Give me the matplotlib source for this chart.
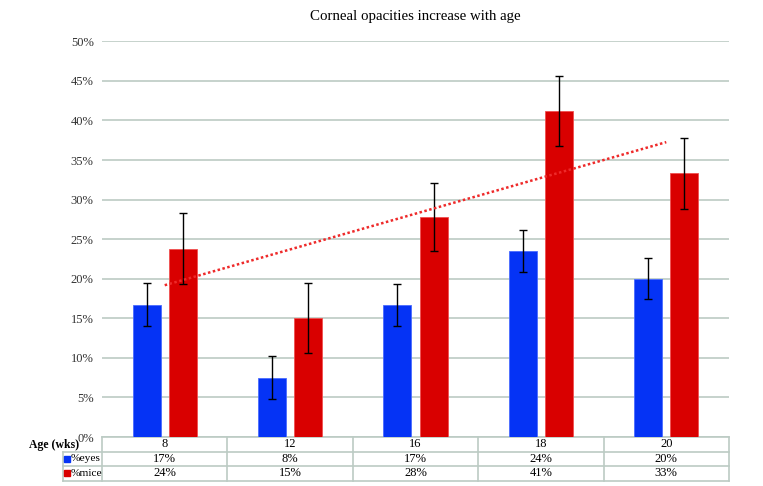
# -*- coding: utf-8 -*-
"""
Corneal opacities vs age: grouped bars with error bars, linear trend and data table.
"""

import numpy as np
import matplotlib.pyplot as plt
import matplotlib.transforms as mtransforms

# data
ages = ['8', '12', '16', '18', '20']
eyes = [16.7, 7.5, 16.7, 23.5, 20.0]
mice = [23.8, 15.0, 27.8, 41.2, 33.3]
eyes_err = [2.7, 2.7, 2.65, 2.7, 2.6]
mice_err = [4.45, 4.4, 4.35, 4.4, 4.45]
eyes_lbl = ['17%', '8%', '17%', '24%', '20%']
mice_lbl = ['24%', '15%', '28%', '41%', '33%']

blue = '#0533F5'
red = '#D90000'
gridc = '#BCCBC4'

plt.rcParams['font.family'] = ['Liberation Serif', 'DejaVu Serif']

fig = plt.figure(figsize=(7.63, 4.86), dpi=100)
ax = fig.add_axes([0.1337, 0.1008, 0.8217, 0.8142])

x = np.arange(1, len(ages) + 1)
w = 0.223
off = 0.144

ax.bar(x - off, eyes, w, color=blue, edgecolor='#4A6BFF', linewidth=0.6, zorder=3)
ax.bar(x + off, mice, w, color=red, edgecolor='#F05050', linewidth=0.6, zorder=3)
ax.errorbar(x - off, eyes, yerr=eyes_err, fmt='none', ecolor='black',
            elinewidth=1, capsize=3, capthick=1, zorder=4)
ax.errorbar(x + off, mice, yerr=mice_err, fmt='none', ecolor='black',
            elinewidth=1, capsize=3, capthick=1, zorder=4)

# linear trend on %mice
fit = np.poly1d(np.polyfit(x, mice, 1))
ax.plot([x[0], x[-1]], fit([x[0], x[-1]]), color='#EE2A2A', linestyle=(0, (1, 1)),
        linewidth=1.8, zorder=5)

ax.set_xlim(0.5, len(ages) + 0.5)
ax.set_ylim(0, 50)
ax.set_yticks(np.arange(0, 51, 5))
ax.set_yticklabels(['%d%%' % v for v in range(0, 51, 5)], fontsize=9, color='#333333')
ax.yaxis.grid(True, color=gridc, linewidth=1.2, zorder=0)
ax.set_axisbelow(True)
ax.tick_params(axis='y', length=0, pad=6)
ax.set_xticks([])
for s in ax.spines.values():
    s.set_visible(False)

ax.set_title('Corneal opacities increase with age', fontsize=10.7, pad=15)

# data table under the axis
tr = mtransforms.blended_transform_factory(ax.transData, ax.transAxes)
rh = 14.5 / (0.8142 * 486)
lab_x = 0.19
n = len(ages)
kw = dict(color=gridc, linewidth=1.2, transform=tr, clip_on=False)
ax.plot([0.5, n + 0.5], [0, 0], **kw)
for r in range(1, 4):
    ax.plot([lab_x, n + 0.5], [-r * rh, -r * rh], **kw)
for b in np.arange(0.5, n + 1):
    ax.plot([b, b], [0, -3 * rh], **kw)
ax.plot([lab_x, lab_x], [-rh, -3 * rh], **kw)

for i in range(n):
    ax.text(x[i], -0.5 * rh, ages[i], transform=tr, ha='center', va='center', fontsize=9)
    ax.text(x[i], -1.5 * rh, eyes_lbl[i], transform=tr, ha='center', va='center', fontsize=9)
    ax.text(x[i], -2.5 * rh, mice_lbl[i], transform=tr, ha='center', va='center', fontsize=9)

ax.text(0.32, -0.55 * rh, 'Age (wks)', transform=tr, ha='right', va='center',
        fontsize=8.5, fontweight='bold')
for r, (name, col) in enumerate([('%eyes', blue), ('%mice', red)]):
    yy = -(1.5 + r) * rh
    ax.plot([lab_x + 0.03], [yy], marker='s', markersize=3.8, color=col,
            transform=tr, clip_on=False, linestyle='none')
    ax.text(lab_x + 0.062, yy, name, transform=tr, ha='left', va='center', fontsize=8.2)

fig.savefig('out.png', dpi=100)
